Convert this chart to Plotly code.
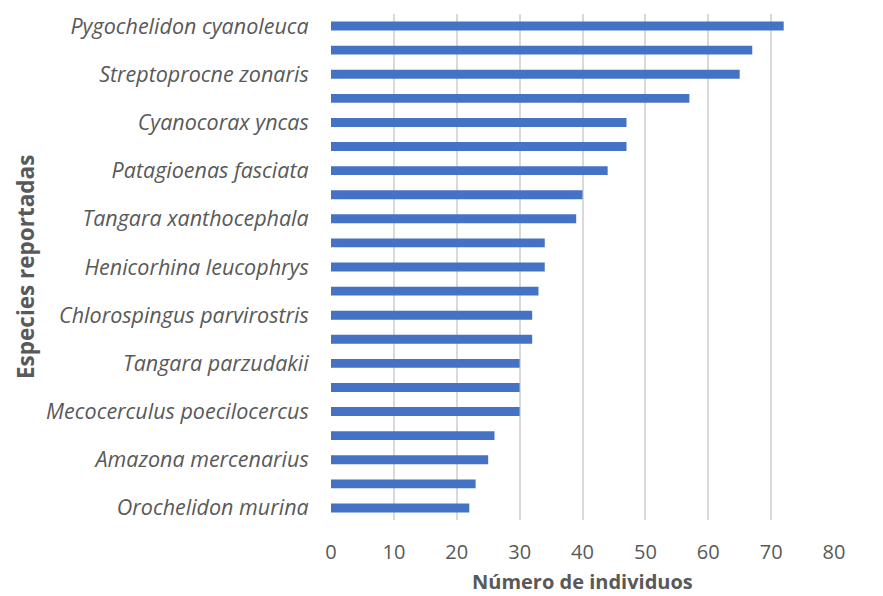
import plotly.graph_objects as go

# Data (top to bottom as in the reference)
species_labels = [
    "Pygochelidon cyanoleuca", "", "Streptoprocne zonaris", "", "Cyanocorax yncas", "",
    "Patagioenas fasciata", "", "Tangara xanthocephala", "", "Henicorhina leucophrys", "",
    "Chlorospingus parvirostris", "", "Tangara parzudakii", "", "Mecocerculus poecilocercus", "",
    "Amazona mercenarius", "", "Orochelidon murina",
]
counts = [72, 67, 65, 57, 47, 47, 44, 40, 39, 34, 34, 33, 32, 32, 30, 30, 30, 26, 25, 23, 22]
x_ticks = [0, 10, 20, 30, 40, 50, 60, 70, 80]

positions = list(range(len(counts)))
shown = [i for i, s in enumerate(species_labels) if s]

# page body has an 8px margin; plot area target: x 331..834, y 11..520
W, H = 875, 588
L, R, T, B = 323, 49, 3, 76
plot_w = W - L - R
plot_h = H - T - B

fig = go.Figure(go.Bar(
    x=counts, y=positions, orientation="h",
    marker=dict(color="#4472C4", line=dict(width=0)),
    width=0.37,
))

fig.update_layout(
    width=W, height=H,
    margin=dict(l=L, r=R, t=T, b=B),
    paper_bgcolor="white", plot_bgcolor="white",
    font=dict(family="Open Sans", color="#595959"),
    showlegend=False,
)
fig.update_xaxes(
    range=[0, 80], tickvals=x_ticks,
    showgrid=True, gridcolor="#D9D9D9", gridwidth=1.5,
    zeroline=False, showline=False,
    tickfont=dict(size=20, color="#595959"),
    ticks="outside", ticklen=14, tickcolor="rgba(0,0,0,0)",
)
fig.update_yaxes(
    range=[len(counts) - 0.5, -0.5],
    tickvals=shown, ticktext=[f"<i>{species_labels[i]}</i>" for i in shown],
    showgrid=False, zeroline=False, showline=False,
    tickfont=dict(size=21.5, color="#595959"),
    ticks="outside", ticklen=17, tickcolor="rgba(0,0,0,0)",
    ticklabeloverflow="allow",
)

fig.add_annotation(
    text="<b>Número de individuos</b>", xref="paper", yref="paper",
    x=0.5, y=(520 - 582) / plot_h, xanchor="center", yanchor="middle",
    showarrow=False, font=dict(size=20, color="#595959", family="Open Sans"),
)
fig.add_annotation(
    text="<b>Especies reportadas</b>", xref="paper", yref="paper",
    x=(25 - 331) / plot_w, y=0.5, xanchor="center", yanchor="middle",
    textangle=-90,
    showarrow=False, font=dict(size=22.5, color="#595959", family="Open Sans"),
)

fig.write_html("out.html")
